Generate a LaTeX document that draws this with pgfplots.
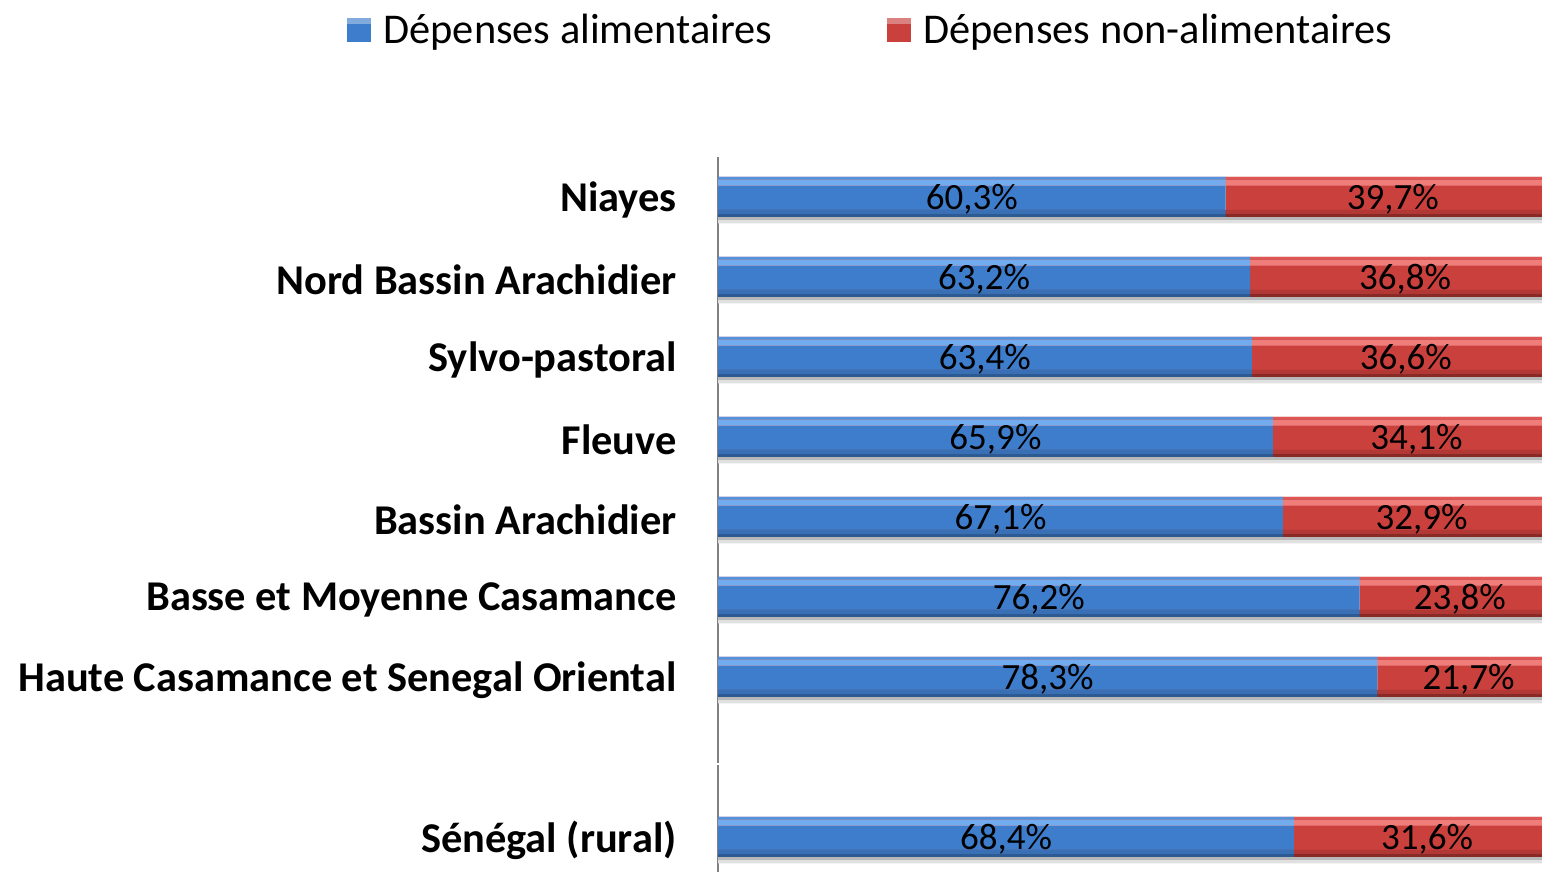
\documentclass[border=0pt]{standalone}
\usepackage{fontspec}
\setmainfont{Carlito}
\usepackage{pgfplots}
\pgfplotsset{compat=1.18}
\usepackage{pgfplotstable}

\definecolor{b1}{HTML}{3E7DCB}
\definecolor{b2}{HTML}{386FB5}
\definecolor{b3}{HTML}{2D5A92}
\definecolor{bh}{HTML}{72ABEE}
\definecolor{be}{HTML}{5592DC}
\definecolor{r1}{HTML}{C9403D}
\definecolor{r2}{HTML}{B23835}
\definecolor{r3}{HTML}{8A2A27}
\definecolor{rh}{HTML}{EF7E7B}
\definecolor{re}{HTML}{DE5754}

\pgfplotstableread{
y a b
8 60.3 39.7
7 63.2 36.8
6 63.4 36.6
5 65.9 34.1
4 67.1 32.9
3 76.2 23.8
2 78.3 21.7
0 68.4 31.6
}\data

\pgfplotsset{
  strip/.style n args={3}{xbar, bar width=#1, bar shift=#2, fill=#3, draw=none, forget plot},
  common/.style={at={(359pt,-2.5pt)}, anchor=south west,
    scale only axis, width=421pt, height=360pt,
    xmin=0, xmax=100, ymin=-0.5, ymax=8.5},
  lab/.style={draw=none, mark=none, point meta=explicit,
    nodes near coords={\pgfmathprintnumber[fixed, precision=1, zerofill, use comma, assume math mode=true]{\pgfplotspointmeta}\%},
    nodes near coords style={anchor=center, font=\fontsize{18.5}{22}\selectfont, text=black, yshift=-1.2pt}},
}

\begin{document}
\begin{tikzpicture}
\useasboundingbox (0,0) rectangle (771pt,436pt);
\clip (0,0) rectangle (771pt,436pt);
\begin{axis}[
  common,
  xbar stacked, bar width=20pt,
  axis x line=none, axis y line*=left,
  y axis line style={draw=gray, line width=1pt},
  ytick={0,2,3,4,5,6,7,8},
  yticklabels={Sénégal (rural),Haute Casamance et Senegal Oriental,Basse et Moyenne Casamance,Bassin Arachidier,Fleuve,Sylvo-pastoral,Nord Bassin Arachidier,Niayes},
  major tick length=0pt,
  y tick label style={font=\bfseries\fontsize{21.2}{25}\selectfont, inner sep=0pt, xshift=-20.5pt, yshift=-1.5pt},
  legend columns=2,
  legend style={at={(-0.4477,1.176)}, anchor=west, draw=none, fill=none,
    font=\fontsize{21.2}{25}\selectfont,
    /tikz/every odd column/.append style={column sep=4pt},
    /tikz/every even column/.append style={column sep=55.5pt}},
  legend image code/.code={\path[#1, draw=none] (0pt,-6pt) rectangle (12pt,6pt);
     \path[#1, draw=none, fill opacity=0.35, fill=white] (0pt,3pt) rectangle (12pt,6pt);},
]
\addplot[draw=none, fill=b1] table[x=a, y=y] \data;
\addlegendentry{Dépenses alimentaires}
\addplot[draw=none, fill=r1] table[x=b, y=y] \data;
\addlegendentry{Dépenses non-alimentaires}
\end{axis}
\begin{axis}[
  common,
  hide axis, clip=true,
]
% shadow below bars
\addplot[strip={1.6pt}{-10.8pt}{black!28}] table[x expr=\thisrow{a}+\thisrow{b}, y=y] \data;
\addplot[strip={1.6pt}{-12.4pt}{black!12}] table[x expr=\thisrow{a}+\thisrow{b}, y=y] \data;
% red strips (full width, then covered by blue)
\addplot[strip={1.5pt}{-9.25pt}{r3}] table[x expr=\thisrow{a}+\thisrow{b}, y=y] \data;
\addplot[strip={2pt}{-7.5pt}{r2}] table[x expr=\thisrow{a}+\thisrow{b}, y=y] \data;
\addplot[strip={3pt}{7.2pt}{rh}] table[x expr=\thisrow{a}+\thisrow{b}, y=y] \data;
\addplot[strip={1pt}{9.5pt}{re}] table[x expr=\thisrow{a}+\thisrow{b}, y=y] \data;
% blue strips
\addplot[strip={1.5pt}{-9.25pt}{b3}] table[x=a, y=y] \data;
\addplot[strip={2pt}{-7.5pt}{b2}] table[x=a, y=y] \data;
\addplot[strip={3pt}{7.2pt}{bh}] table[x=a, y=y] \data;
\addplot[strip={1pt}{9.5pt}{be}] table[x=a, y=y] \data;
% labels
\addplot[lab] table[x expr=\thisrow{a}/2, y=y, meta=a] \data;
\addplot[lab] table[x expr=\thisrow{a}+\thisrow{b}/2, y=y, meta=b] \data;
\end{axis}
\fill[white] (357pt,53.5pt) rectangle (361pt,54.3pt);
\end{tikzpicture}
\end{document}
